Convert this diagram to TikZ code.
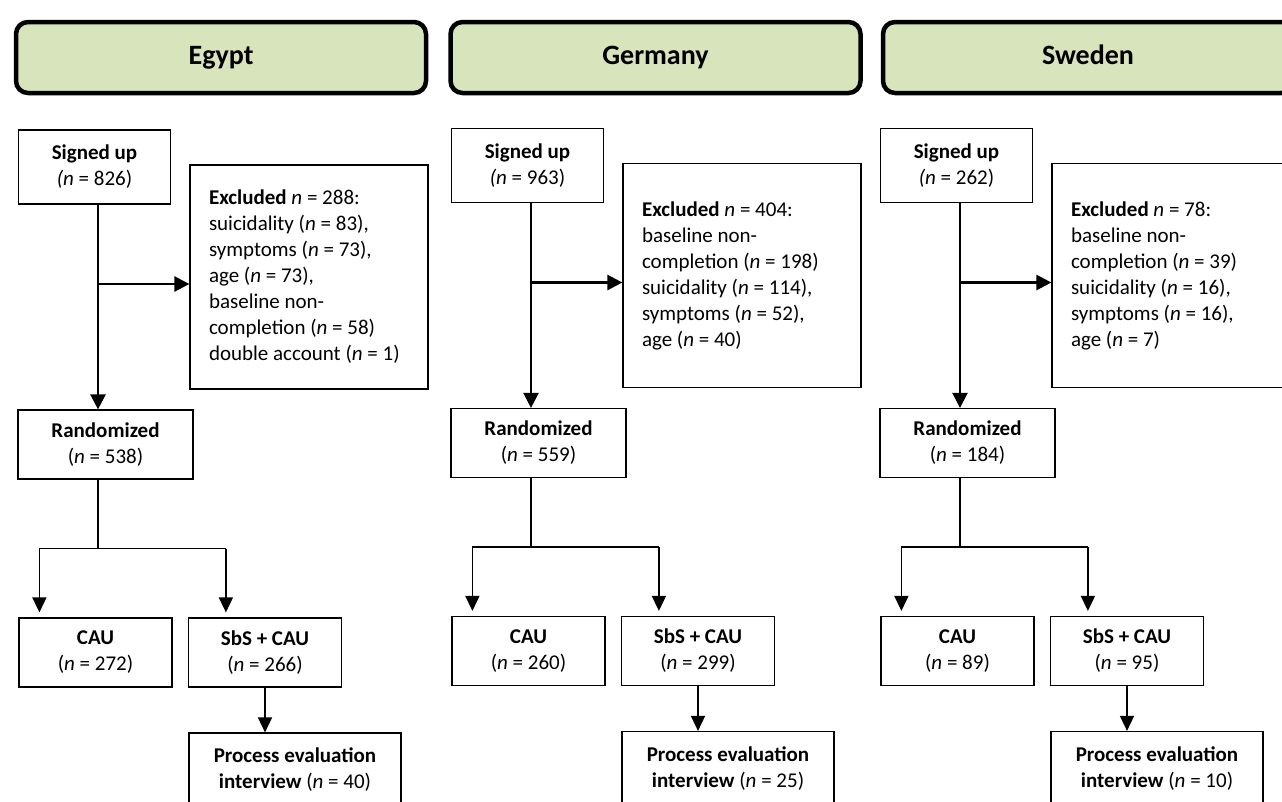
\documentclass[tikz,border=0pt]{standalone}
\usepackage{fontspec}
\setmainfont{Carlito}
\usetikzlibrary{
	arrows.meta,   %箭头
	calc,          %计算
	positioning    %定位
}
\definecolor{hdrgreen}{HTML}{D8E4BC}
\tikzset{
	hdr/.style={draw, line width=4.5pt, rounded corners=12pt, fill=hdrgreen,
		minimum width=410pt, minimum height=71pt, text height=19pt, text depth=5pt,
		font=\fontsize{28}{32}\selectfont\bfseries},
	box/.style={draw, line width=1.2pt, align=center, inner sep=0pt},
	subox/.style={box, minimum width=152pt, minimum height=74pt},
	exbox/.style={box, minimum width=238pt, minimum height=224pt,
		text width=200pt, inner xsep=19pt, align=flush left},
	rabox/.style={box, minimum width=175pt, minimum height=69pt},
	grbox/.style={box, minimum width=153pt, minimum height=69pt},
	prbox/.style={box, minimum width=212pt, minimum height=74pt},
	arr/.style={-{Triangle[length=15pt,width=15pt]}, line width=2.4pt},
	thinarr/.style={-{Triangle[length=15pt,width=14pt]}, line width=1.6pt},
	thinline/.style={line width=1.6pt}
}
\begin{document}
\begin{tikzpicture}[x=1pt, y=-1pt, font=\fontsize{21}{26}\selectfont]
\useasboundingbox (0,0) rectangle (1282,801);
\clip (0,0) rectangle (1282,801);
% country headers
\node[hdr] (hdr-eg) at (221,57.5) {Egypt};
\node[hdr] (hdr-de) at (655.5,57.5) {Germany};
\node[hdr] (hdr-se) at (1088,57.5) {Sweden};

% Egypt
\begin{scope}[name prefix=eg-]
\node[subox] (su) at (94.5,167) {\textbf{Signed up}\\\textit{(n} = 826)};
\node[exbox] (excl) at (309,277) {\textbf{Excluded} \textit{n} = 288:\\suicidality (\textit{n} = 83),\\symptoms (\textit{n} = 73),\\age (\textit{n} = 73),\\baseline non-\\completion (\textit{n} = 58)\\double account (\textit{n} = 1)};
\node[rabox] (rand) at (105.5,444.5) {\textbf{Randomized}\\(\textit{n} = 538)};
\node[grbox] (cau) at (95.5,652.5) {\textbf{CAU}\\(\textit{n} = 272)};
\node[grbox] (sbs) at (265,652.5) {\textbf{SbS + CAU}\\(\textit{n} = 266)};
\node[prbox] (proc) at (295,770) {\textbf{Process evaluation}\\\textbf{interview} (\textit{n} = 40)};
\coordinate (top) at ($(su.south)+(3.5,0)$);
\coordinate (fork) at ($(top |- excl.west)+(0,7)$);
\coordinate (split) at ($(top |- rand.south)+(0,69)$);
\coordinate (l) at ($(cau.north west)+(21,0)$);
\coordinate (r) at ($(sbs.north west)+(38,0)$);
\draw[arr] (top) -- (top |- rand.north);
\draw[arr] (fork) -- (fork -| excl.west);
\draw[thinline] (top |- rand.south) -- (split);
\draw[thinline] (split -| l) -- (split -| r);
\draw[thinarr, shorten >=5pt] (split -| l) -- (l);
\draw[thinarr, shorten >=5pt] (split -| r) -- (r);
\draw[thinarr] (sbs.south) -- (sbs.south |- proc.north);
\end{scope}

% Germany
\begin{scope}[xshift=433pt, yshift=1.5pt, name prefix=de-]
\node[subox] (su) at (94.5,167) {\textbf{Signed up}\\\textit{(n} = 963)};
\node[exbox] (excl) at (309,277) {\textbf{Excluded} \textit{n} = 404:\\baseline non-\\completion (\textit{n} = 198)\\suicidality (\textit{n} = 114),\\symptoms (\textit{n} = 52),\\age (\textit{n} = 40)};
\node[rabox] (rand) at (105.5,444.5) {\textbf{Randomized}\\(\textit{n} = 559)};
\node[grbox] (cau) at (95.5,652.5) {\textbf{CAU}\\(\textit{n} = 260)};
\node[grbox] (sbs) at (265,652.5) {\textbf{SbS + CAU}\\(\textit{n} = 299)};
\node[prbox] (proc) at (295,770) {\textbf{Process evaluation}\\\textbf{interview} (\textit{n} = 25)};
\coordinate (top) at ($(su.south)+(3.5,0)$);
\coordinate (fork) at ($(top |- excl.west)+(0,7)$);
\coordinate (split) at ($(top |- rand.south)+(0,69)$);
\coordinate (l) at ($(cau.north west)+(21,0)$);
\coordinate (r) at ($(sbs.north west)+(38,0)$);
\draw[arr] (top) -- (top |- rand.north);
\draw[arr] (fork) -- (fork -| excl.west);
\draw[thinline] (top |- rand.south) -- (split);
\draw[thinline] (split -| l) -- (split -| r);
\draw[thinarr, shorten >=5pt] (split -| l) -- (l);
\draw[thinarr, shorten >=5pt] (split -| r) -- (r);
\draw[thinarr] (sbs.south) -- (sbs.south |- proc.north);
\end{scope}

% Sweden
\begin{scope}[xshift=862pt, yshift=1.5pt, name prefix=se-]
\node[subox] (su) at (94.5,167) {\textbf{Signed up}\\\textit{(n} = 262)};
\node[exbox] (excl) at (309,277) {\textbf{Excluded} \textit{n} = 78:\\baseline non-\\completion (\textit{n} = 39)\\suicidality (\textit{n} = 16),\\symptoms (\textit{n} = 16),\\age (\textit{n} = 7)};
\node[rabox] (rand) at (105.5,444.5) {\textbf{Randomized}\\(\textit{n} = 184)};
\node[grbox] (cau) at (95.5,652.5) {\textbf{CAU}\\(\textit{n} = 89)};
\node[grbox] (sbs) at (265,652.5) {\textbf{SbS + CAU}\\(\textit{n} = 95)};
\node[prbox] (proc) at (295,770) {\textbf{Process evaluation}\\\textbf{interview} (\textit{n} = 10)};
\coordinate (top) at ($(su.south)+(3.5,0)$);
\coordinate (fork) at ($(top |- excl.west)+(0,7)$);
\coordinate (split) at ($(top |- rand.south)+(0,69)$);
\coordinate (l) at ($(cau.north west)+(21,0)$);
\coordinate (r) at ($(sbs.north west)+(38,0)$);
\draw[arr] (top) -- (top |- rand.north);
\draw[arr] (fork) -- (fork -| excl.west);
\draw[thinline] (top |- rand.south) -- (split);
\draw[thinline] (split -| l) -- (split -| r);
\draw[thinarr, shorten >=5pt] (split -| l) -- (l);
\draw[thinarr, shorten >=5pt] (split -| r) -- (r);
\draw[thinarr] (sbs.south) -- (sbs.south |- proc.north);
\end{scope}
\end{tikzpicture}
\end{document}
